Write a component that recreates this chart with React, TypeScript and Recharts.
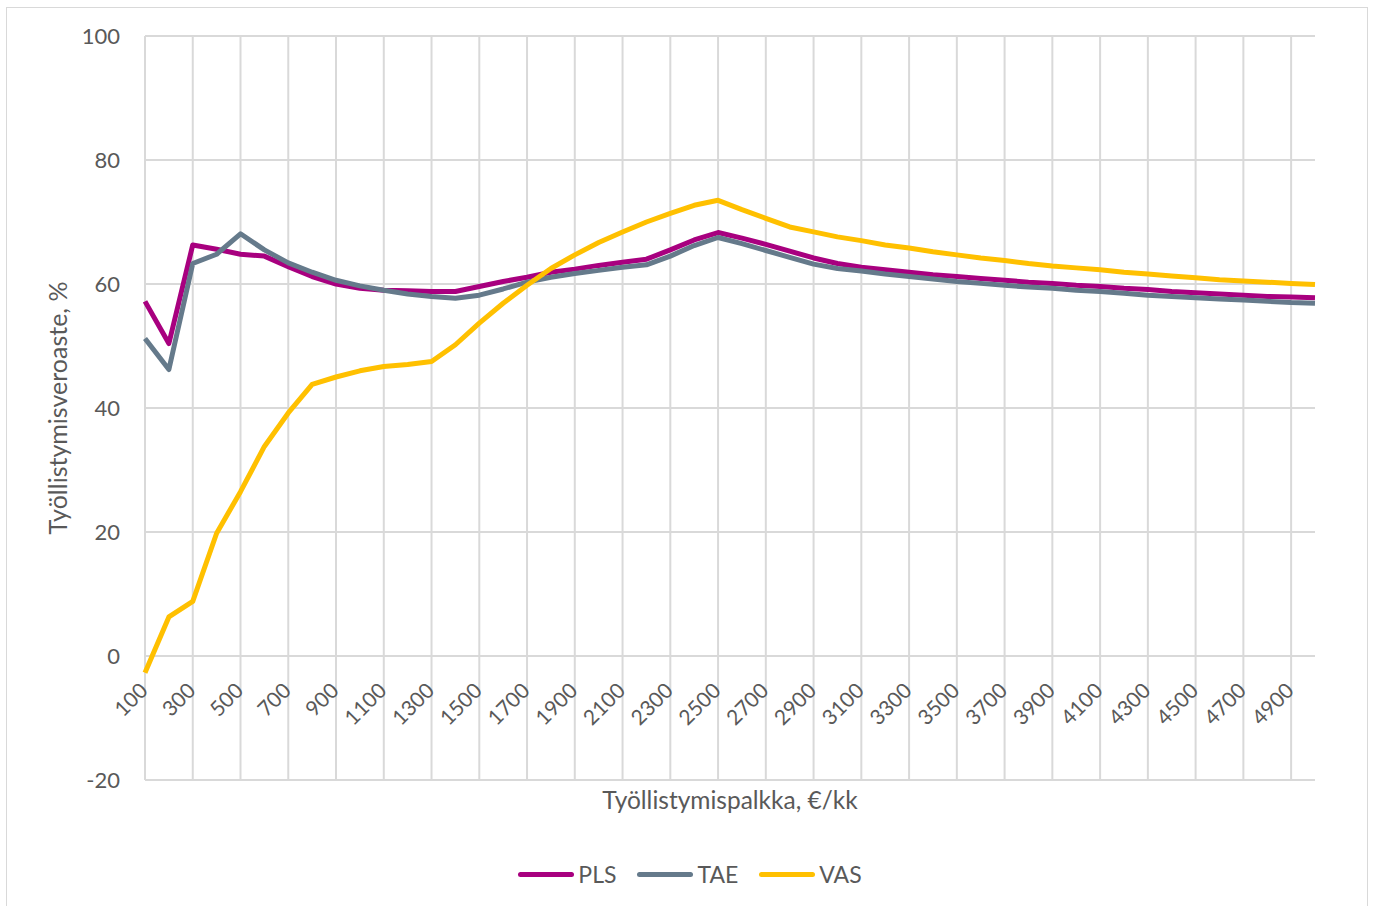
import React from 'react';
import {
  LineChart,
  Line,
  XAxis,
  YAxis,
  CartesianGrid,
  Legend,
} from 'recharts';

const SALARY = [
  100, 200, 300, 400, 500, 600, 700, 800, 900, 1000,
  1100, 1200, 1300, 1400, 1500, 1600, 1700, 1800, 1900, 2000,
  2100, 2200, 2300, 2400, 2500, 2600, 2700, 2800, 2900, 3000,
  3100, 3200, 3300, 3400, 3500, 3600, 3700, 3800, 3900, 4000,
  4100, 4200, 4300, 4400, 4500, 4600, 4700, 4800, 4900, 5000,
];

const PLS = [
  57.2, 50.4, 66.3, 65.6, 64.8, 64.5, 62.8, 61.2, 60.0, 59.3,
  59.0, 58.9, 58.8, 58.8, 59.6, 60.4, 61.1, 61.9, 62.4, 63.0,
  63.5, 64.0, 65.5, 67.1, 68.3, 67.4, 66.4, 65.3, 64.2, 63.3,
  62.7, 62.3, 61.9, 61.5, 61.2, 60.9, 60.6, 60.3, 60.1, 59.8,
  59.6, 59.3, 59.1, 58.8, 58.6, 58.4, 58.2, 58.0, 57.9, 57.8,
];

const TAE = [
  51.2, 46.2, 63.3, 64.8, 68.1, 65.5, 63.4, 61.9, 60.6, 59.7,
  59.0, 58.4, 58.0, 57.7, 58.2, 59.2, 60.3, 61.1, 61.7, 62.2,
  62.7, 63.1, 64.5, 66.2, 67.5, 66.5, 65.4, 64.3, 63.2, 62.5,
  62.1, 61.6, 61.2, 60.8, 60.4, 60.1, 59.8, 59.5, 59.3, 59.0,
  58.8, 58.5, 58.2, 58.0, 57.8, 57.6, 57.4, 57.2, 57.0, 56.9,
];

const VAS = [
  -2.7, 6.3, 8.8, 19.8, 26.5, 33.8, 39.2, 43.8, 45.0, 46.0,
  46.7, 47.0, 47.5, 50.2, 53.7, 56.9, 59.8, 62.5, 64.7, 66.7,
  68.4, 70.0, 71.4, 72.7, 73.5, 72.0, 70.6, 69.2, 68.4, 67.6,
  67.0, 66.3, 65.8, 65.2, 64.7, 64.2, 63.8, 63.3, 62.9, 62.6,
  62.3, 61.9, 61.6, 61.3, 61.0, 60.7, 60.5, 60.3, 60.1, 59.9,
];

const X_TICKS = [
  100, 300, 500, 700, 900, 1100, 1300, 1500, 1700, 1900,
  2100, 2300, 2500, 2700, 2900, 3100, 3300, 3500, 3700, 3900,
  4100, 4300, 4500, 4700, 4900,
];
const Y_TICKS = [-20, 0, 20, 40, 60, 80, 100];

const SERIES = [
  { key: 'PLS', color: '#a8007f' },
  { key: 'TAE', color: '#657a8b' },
  { key: 'VAS', color: '#ffc000' },
];

const data = SALARY.map((s, i) => ({ salary: s, PLS: PLS[i], TAE: TAE[i], VAS: VAS[i] }));

const W = 1373;
const H = 906;
const MARGIN = { top: 36, right: 58, left: 0, bottom: 20 };
const X_MIN = 100;
const X_MAX = 5000;
const Y_MIN = -20;
const Y_MAX = 100;
const PLOT_H = 744;
// category labels sit on the zero line, like in Excel
const ZERO_SHIFT = (PLOT_H * (0 - Y_MIN)) / (Y_MAX - Y_MIN);

const FONT = 'Lato, "Open Sans", sans-serif';
const TEXT = '#595959';

function SlantTick(props: any) {
  const { x, y, payload } = props;
  return (
    <text
      transform={`translate(${x + 4},${y - ZERO_SHIFT + 36}) rotate(-45)`}
      textAnchor="end"
      fill={TEXT}
      fontSize={21}
      fontFamily={FONT}
    >
      {payload.value}
    </text>
  );
}

function YTitle(props: any) {
  const vb = props.viewBox;
  const cx = vb.x + 57;
  const cy = vb.y + vb.height / 2;
  return (
    <text
      x={cx}
      y={cy}
      transform={`rotate(-90, ${cx}, ${cy})`}
      textAnchor="middle"
      dominantBaseline="central"
      fill={TEXT}
      fontSize={25}
      fontFamily={FONT}
    >
      Työllistymisveroaste, %
    </text>
  );
}

function LegendRow({ payload }: any) {
  return (
    <div
      style={{
        display: 'flex',
        justifyContent: 'center',
        alignItems: 'center',
        height: 24,
        paddingLeft: 28,
        fontFamily: FONT,
        fontSize: 23,
        color: TEXT,
      }}
    >
      {(payload || []).map((p: any) => (
        <div key={p.value} style={{ display: 'flex', alignItems: 'center', marginRight: 21 }}>
          <span
            style={{
              display: 'inline-block',
              width: 56,
              height: 5,
              borderRadius: 3,
              background: p.color,
              marginRight: 4,
            }}
          />
          <span>{p.value}</span>
        </div>
      ))}
    </div>
  );
}

// vertical gridlines only at the labelled categories (no line at the right edge)
const gridX = ({ xAxis, offset }: any) => {
  if (xAxis && typeof xAxis.scale === 'function') return X_TICKS.map((t) => xAxis.scale(t));
  return X_TICKS.map((t) => offset.left + (offset.width * (t - X_MIN)) / (X_MAX - X_MIN));
};

export default function App() {
  return (
    <div style={{ position: 'absolute', left: 0, top: 0, width: W, height: H, overflow: 'hidden', background: '#fff' }}>
      <div
        style={{
          position: 'absolute',
          left: 6,
          top: 7,
          width: 1360,
          height: 920,
          border: '1px solid #d9d9d9',
        }}
      />
      <LineChart
        width={W}
        height={H}
        data={data}
        margin={MARGIN}
        style={{ position: 'absolute', left: 0, top: 0, fontFamily: FONT }}
      >
        <CartesianGrid stroke="#d9d9d9" strokeWidth={2} verticalCoordinatesGenerator={gridX} />
        <XAxis
          dataKey="salary"
          type="number"
          domain={[X_MIN, X_MAX]}
          ticks={X_TICKS}
          interval={0}
          height={82}
          axisLine={false}
          tickLine={false}
          tickSize={0}
          tickMargin={0}
          tick={<SlantTick />}
          label={{
            value: 'Työllistymispalkka, €/kk',
            position: 'insideTop',
            offset: 12,
            fill: TEXT,
            fontSize: 24.5,
            fontFamily: FONT,
          }}
        />
        <YAxis
          width={145}
          domain={[Y_MIN, Y_MAX]}
          ticks={Y_TICKS}
          interval={0}
          axisLine={false}
          tickLine={false}
          tickMargin={19}
          tick={{ fill: TEXT, fontSize: 22, fontFamily: FONT }}
          label={<YTitle />}
        />
        <Legend
          verticalAlign="bottom"
          content={<LegendRow />}
          wrapperStyle={{ left: 0, width: W, bottom: 20 }}
        />
        {SERIES.map((s) => (
          <Line
            key={s.key}
            type="linear"
            dataKey={s.key}
            stroke={s.color}
            strokeWidth={5}
            strokeLinejoin="round"
            dot={false}
            activeDot={false}
            isAnimationActive={false}
          />
        ))}
      </LineChart>
    </div>
  );
}
